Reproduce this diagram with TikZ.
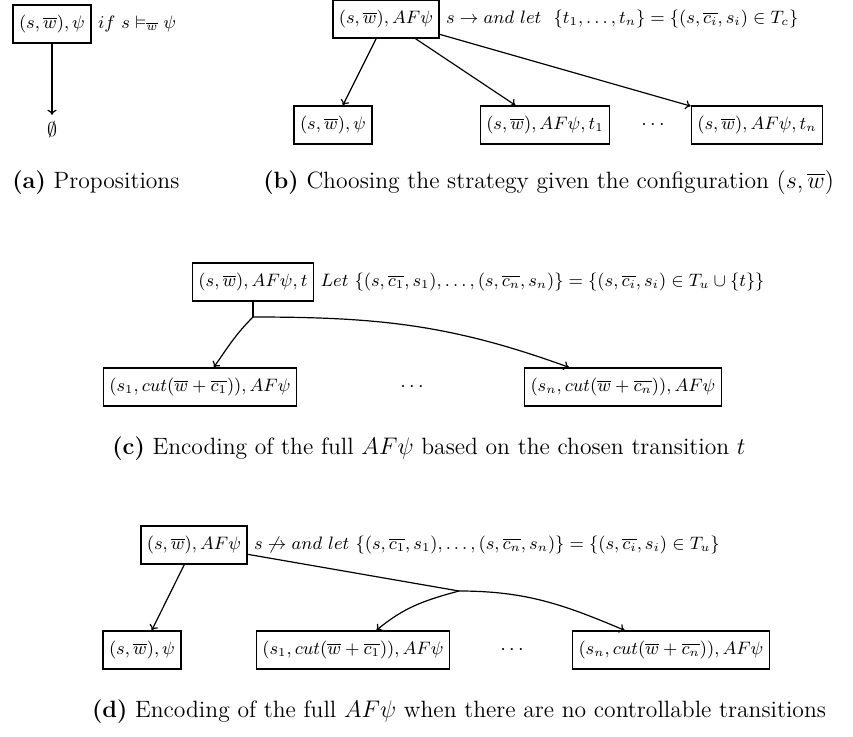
\documentclass[tikz,border=0pt]{standalone}
\usepackage{amssymb}
\usetikzlibrary{arrows.meta,positioning}

\begin{document}
\begin{tikzpicture}[
    x=0.5pt, y=0.5pt,
    box/.style={draw, line width=0.7pt, inner sep=3pt, minimum height=19pt, font=\small},
    lbl/.style={inner sep=3pt, font=\small, anchor=west},
    captext/.style={inner sep=0pt, anchor=base west, font=\fontsize{11.8}{14}\selectfont},
    link/.style={-{To[length=2.6pt, width=4.6pt]}, line width=0.6pt},
    stem/.style={line width=0.6pt}
]
\useasboundingbox (0,0) rectangle (853,-736);

% (a) propositions
\node[box] (pa) at (52,-24) {$(s,\overline{w}),\psi$};
\node[lbl, right=0pt of pa] (pa-if) {$if\ s \vDash_{\overline{w}} \psi$};
\node (pa-empty) at (52,-130) {$\emptyset$};
\draw[link] (pa) -- (pa-empty);
\node[captext] (cap-a) at (12,-188) {\textbf{(a)} Propositions};

% (b) choosing the strategy
\node[box] (pb) at (386,-19) {$(s,\overline{w}),AF\psi$};
\node[lbl, right=0pt of pb] (pb-let) {$s \rightarrow and\ let\ \ \{t_1,\ldots,t_n\} = \{(s,\overline{c_i},s_i) \in T_c\}$};
\node[box] (pb-psi) at (333,-125) {$(s,\overline{w}),\psi$};
\node[box] (pb-t1) at (545,-125) {$(s,\overline{w}),AF\psi,t_1$};
\node (pb-dots) at (653,-125) {$\cdots$};
\node[box] (pb-tn) at (757,-125) {$(s,\overline{w}),AF\psi,t_n$};
\draw[link] (pb) -- (pb-psi);
\draw[link] (pb) -- (pb-t1);
\draw[link] (pb) -- (pb-tn);
\node[captext] (cap-b) at (263,-188) {\textbf{(b)} Choosing the strategy given the configuration $(s,\overline{w})$};

% (c) chosen transition
\node[box] (pc) at (253,-282) {$(s,\overline{w}),AF\psi,t$};
\node[lbl, right=0pt of pc] (pc-let) {$Let\ \{(s,\overline{c_1},s_1),\ldots,(s,\overline{c_n},s_n)\} = \{(s,\overline{c_i},s_i) \in T_u \cup \{t\}\}$};
\coordinate (pc-split) at (253,-317);
\node[box] (pc-1) at (200,-387) {$(s_1,cut(\overline{w}+\overline{c_1})),AF\psi$};
\node (pc-dots) at (412,-387) {$\cdots$};
\node[box] (pc-n) at (623,-387) {$(s_n,cut(\overline{w}+\overline{c_n})),AF\psi$};
\draw[stem] (pc) -- (pc-split);
\draw[link] (pc-split) to[out=225, in=55] (pc-1);
\draw[link] (pc-split) to[out=0, in=160] (pc-n);
\node[captext] (cap-c) at (112,-454) {\textbf{(c)} Encoding of the full $AF\psi$ based on the chosen transition $t$};

% (d) no controllable transitions
\node[box] (pd) at (194,-545) {$(s,\overline{w}),AF\psi$};
\node[lbl, right=0pt of pd] (pd-let) {$s \not\rightarrow and\ let\ \{(s,\overline{c_1},s_1),\ldots,(s,\overline{c_n},s_n)\} = \{(s,\overline{c_i},s_i) \in T_u\}$};
\coordinate (pd-split) at (459,-591);
\node[box] (pd-psi) at (142,-650) {$(s,\overline{w}),\psi$};
\node[box] (pd-1) at (353,-650) {$(s_1,cut(\overline{w}+\overline{c_1})),AF\psi$};
\node (pd-dots) at (512,-650) {$\cdots$};
\node[box] (pd-n) at (671,-650) {$(s_n,cut(\overline{w}+\overline{c_n})),AF\psi$};
\draw[link] (pd) -- (pd-psi);
\draw[stem] (pd) -- (pd-split);
\draw[link] (pd-split) to[out=195, in=40] (pd-1);
\draw[link] (pd-split) to[out=0, in=157] (pd-n);
\node[captext, anchor=base] (cap-d) at (459,-717) {\textbf{(d)} Encoding of the full $AF\psi$ when there are no controllable transitions};
\end{tikzpicture}
\end{document}
